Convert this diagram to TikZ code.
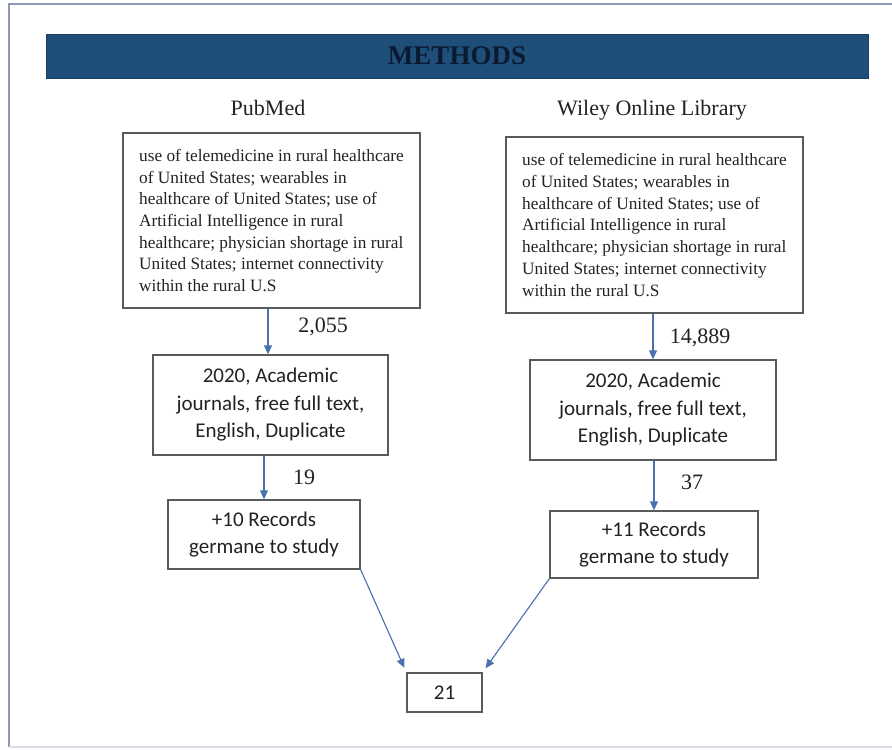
\documentclass[tikz,border=0pt]{standalone}
\usepackage{fontspec}
\setmainfont{Liberation Serif}
\newfontfamily\calibri{Carlito}
\usepackage{tikz}
\usetikzlibrary{arrows.meta, positioning}
\definecolor{bannerblue}{HTML}{1F4E79}
\definecolor{bannertext}{HTML}{0B1A33}
\definecolor{framegrey}{HTML}{8E9AB6}
\definecolor{arrowblue}{HTML}{4A72B0}
\definecolor{boxgrey}{HTML}{5A5A5A}
\definecolor{inktext}{HTML}{222222}

\begin{document}
\begin{tikzpicture}[
            x=1pt, y=-1pt,
            kwbox/.style={rectangle, draw=boxgrey, line width=1.3pt, align=left, inner sep=0pt,
                    text=inktext, font=\fontsize{17.3}{21.7}\selectfont},
            filtbox/.style={rectangle, draw=boxgrey, line width=1.3pt, align=center, inner sep=0pt,
                    text=inktext, font=\calibri\fontsize{21}{27.5}\selectfont},
            source/.style={font=\fontsize{22}{26}\selectfont, text=inktext},
            num/.style={font=\fontsize{22}{26}\selectfont, text=inktext, inner sep=0pt},
            arrow/.style={-{Triangle[length=9pt,width=8pt]}, draw=arrowblue, fill=arrowblue, line width=1.1pt}
        ]
        \useasboundingbox (0,0) rectangle (892,750);
        % outer frame
        \draw[framegrey, line width=2.8pt] (892,4) -- (9,4) -- (9,747);
        \draw[framegrey!35, line width=1.5pt] (9,747) -- (892,747);

        % Banner
        \node[rectangle, fill=bannerblue, draw=bannerblue!80!black, minimum width=822pt, minimum height=44pt,
            font=\bfseries\fontsize{27}{30}\selectfont, text=bannertext] (banner) at (457,56) {METHODS};

        % Sources
        \node[source] (pubmed) at (268,108) {PubMed};
        \node[source] (wiley) at (652,110) {Wiley Online Library};

        % Search terms
        \node[kwbox, minimum width=297pt, minimum height=175pt] (kwL) at (271.5,220.5)
            {use of telemedicine in rural healthcare\\of United States; wearables in\\healthcare of United States; use of\\Artificial Intelligence in rural\\healthcare; physician shortage in rural\\United States; internet connectivity\\within the rural U.S};
        \node[kwbox, minimum width=297pt, minimum height=176pt] (kwR) at (654.5,225)
            {use of telemedicine in rural healthcare\\of United States; wearables in\\healthcare of United States; use of\\Artificial Intelligence in rural\\healthcare; physician shortage in rural\\United States; internet connectivity\\within the rural U.S};

        % Filters
        \node[filtbox, minimum width=235pt, minimum height=100pt] (filtL) at (270.5,405)
            {2020, Academic\\journals, free full text,\\English, Duplicate};
        \node[filtbox, minimum width=246pt, minimum height=100pt] (filtR) at (653,410)
            {2020, Academic\\journals, free full text,\\English, Duplicate};

        % Records
        \node[filtbox, minimum width=192pt, minimum height=69pt] (recL) at (264,534.5)
            {+10 Records\\germane to study};
        \node[filtbox, minimum width=208pt, minimum height=67pt] (recR) at (654,544.5)
            {+11 Records\\germane to study};

        % Total
        \node[filtbox, minimum width=75pt, minimum height=39pt] (total) at (444.5,692.5) {21};

        % Arrows
        \draw[arrow] (kwL.south -| 268,0) -- (filtL.north -| 268,0);
        \draw[arrow] (filtL.south -| recL.north) -- (recL.north);
        \draw[arrow] (kwR.south -| filtR.north) -- (filtR.north);
        \draw[arrow] (filtR.south -| recR.north) -- (recR.north);
        \draw[arrow, shorten >=5pt] (recL.south east) -- (total.north west);
        \draw[arrow, shorten >=5pt] (recR.south west) -- (total.north east);

        % Counts
        \node[num] (n2055) at (323,327) {2,055};
        \node[num] (n14889) at (700,338) {14,889};
        \node[num] (n19) at (304,477) {19};
        \node[num] (n37) at (692,482) {37};
    \end{tikzpicture}
\end{document}
